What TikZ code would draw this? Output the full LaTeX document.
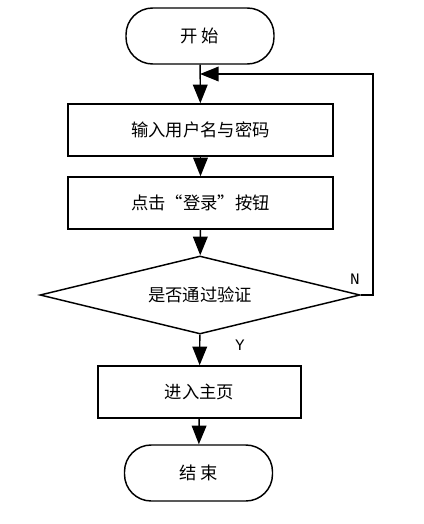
\documentclass[tikz,border=0pt]{standalone}
\usepackage{fontspec}
\setmainfont{Noto Sans CJK SC}
\newfontfamily\monofont{Liberation Mono}
\usetikzlibrary{shapes.geometric,arrows.meta}

\begin{document}
\begin{tikzpicture}[x=0.75pt,y=-0.75pt,line width=1.1pt,
		every node/.style={font=\fontsize{13pt}{15pt}\selectfont},
		terminal/.style={draw,rounded corners=20pt,minimum width=111pt,minimum height=42pt,inner sep=0pt},
		process/.style={draw,minimum height=39pt,inner sep=0pt},
		decision/.style={draw,diamond,aspect=4.1,minimum width=240pt,minimum height=58.5pt,inner sep=0pt},
		flow/.style={-{Triangle[length=14pt,width=11pt]}}]
		\useasboundingbox (0,0) rectangle (424,524);
		% boxes
		\node[terminal] (start) at (200,36) {开\ 始};
		\node[process,minimum width=199pt] (input) at (200.5,130) {输入用户名与密码};
		\node[process,minimum width=199pt] (click) at (200.5,203) {点击“登录”按钮};
		\node[decision] (check) at (200,295) {是否通过验证};
		\node[process,minimum width=152pt] (home) at (199.5,392) {进入主页};
		\node[terminal] (stop) at (198.5,473) {结\ 束};
		% arrows
		\draw[flow] (start) -- (input);
		\draw[flow] (input) -- (click);
		\draw[flow] (click) -- (check);
		\draw[flow] (check) -- (home);
		\draw[flow] (home) -- (stop);
		\coordinate (back) at (200,74);
		\draw[flow] (check.east) -| (373,74) -- (back);
		\node[font=\monofont\fontsize{12pt}{14pt}\selectfont] (no) at (355,279) {N};
		\node[font=\monofont\fontsize{12pt}{14pt}\selectfont] (yes) at (240,345) {Y};
	\end{tikzpicture}
\end{document}
